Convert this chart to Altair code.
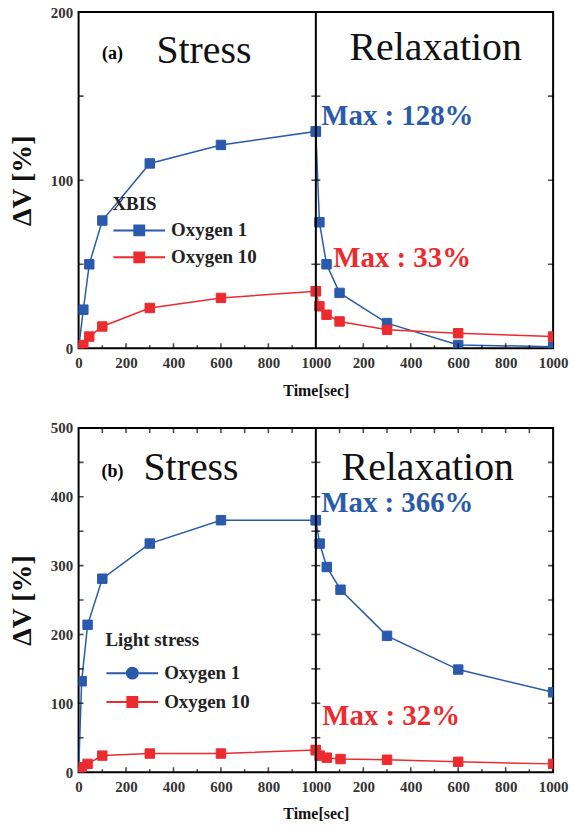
import altair as alt
import pandas as pd

BLUE = "#2a5aab"
RED = "#ec2b2f"
SERIF = "Liberation Serif"

STRESS_END = 1000
series_names = ["Oxygen 1", "Oxygen 10"]

# ---- Panel (a): NBIS ----
a_stress_time = [0, 20, 45, 100, 300, 600, 1000]
a_stress_o1 = [0, 23, 50, 76, 110, 121, 129]
a_stress_o10 = [0, 2, 7, 13, 24, 30, 34]
a_relax_time = [0, 15, 45, 100, 300, 600, 1000]
a_relax_o1 = [129, 75, 50, 33, 15, 2, 1]
a_relax_o10 = [34, 25, 20, 16, 11, 9, 7]

# ---- Panel (b): Light stress ----
b_stress_time = [0, 13, 38, 100, 300, 600, 1000]
b_stress_o1 = [0, 132, 214, 281, 332, 366, 366]
b_stress_o10 = [0, 7, 12, 24, 27, 27, 32]
b_relax_time = [0, 16, 46, 104, 300, 600, 1000]
b_relax_o1 = [366, 332, 298, 265, 198, 149, 116]
b_relax_o10 = [32, 24, 21, 19, 18, 15, 12]

a_y_labels = [0, 100, 200]
a_y_ticks = [50, 100, 150]
b_y_labels = [0, 100, 200, 300, 400, 500]
b_y_ticks = [50, 100, 150, 200, 250, 300, 350, 400, 450]
x_label_values = [0, 200, 400, 600, 800, 1000, 1200, 1400, 1600, 1800, 2000]
x_major_ticks = [200, 400, 600, 800, 1200, 1400, 1600, 1800]
x_minor_ticks = [100, 300, 500, 700, 900, 1100, 1300, 1500, 1700, 1900]
x_top_ticks = [100, 200, 300, 400, 500, 600, 700, 800, 900,
               1100, 1200, 1300, 1400, 1500, 1600, 1700, 1800, 1900]


def build(st, s1, s10, rt, r1, r10):
    rows = []
    for name, sv, rv in [("Oxygen 1", s1, r1), ("Oxygen 10", s10, r10)]:
        k = 0
        for t, v in zip(st, sv):
            rows.append({"series": name, "x": t, "v": v, "k": k})
            k += 1
        for t, v in zip(rt, rv):
            rows.append({"series": name, "x": STRESS_END + t, "v": v, "k": k})
            k += 1
    return pd.DataFrame(rows)


SQ_PATH = "M-1,0H1M-0.19,-0.19H0.19V0.19H-0.19Z"
CIRC_PATH = "M-1,0H1M0.21,0A0.21,0.21,0,1,1,-0.21,0A0.21,0.21,0,1,1,0.21,0Z"


def panel(df, ymax, y_labels, y_ticks, legend_title, leg_x, leg_y, leg_tpad, leg_rpad,
          texts, height, top_ticks, symbol):
    xsc = alt.Scale(domain=[0, 2 * STRESS_END], nice=False, zero=False)
    ysc = alt.Scale(domain=[0, ymax], nice=False, zero=False)
    col = alt.Scale(domain=series_names, range=[BLUE, RED])
    leg = alt.Legend(title=legend_title, orient="none", legendX=leg_x, legendY=leg_y,
                     symbolType=symbol, titlePadding=leg_tpad, rowPadding=leg_rpad)
    x_axis = alt.Axis(values=x_label_values, labelOverlap=False, labelFlush=False,
                      labelExpr="datum.value > 1000 ? '' + (datum.value - 1000) : '' + datum.value")
    y_axis = alt.Axis(values=y_labels, format="d", labelOverlap=False, labelFlush=False)

    def X(f):
        return alt.X(f, type="quantitative", scale=xsc, title="Time[sec]", axis=x_axis)

    def Y(f):
        return alt.Y(f, type="quantitative", scale=ysc, title="ΔV [%]", axis=y_axis)

    line = alt.Chart(df).mark_line(strokeWidth=1.5, clip=True).encode(
        x=X("x"), y=Y("v"),
        stroke=alt.Stroke("series:N", scale=col, legend=leg),
        order="k:Q",
    )
    pts = alt.Chart(df).mark_point(shape="square", filled=True, size=90, opacity=1,
                                   strokeWidth=1, clip=True).encode(
        x=X("x"), y=Y("v"),
        fill=alt.Fill("series:N", scale=col, legend=leg),
        stroke=alt.Stroke("series:N", scale=col, legend=leg),
    )

    # frame ticks (inward)
    ytk = pd.DataFrame([{"x": p, "v": v} for v in y_ticks for p in [0, 2 * STRESS_END]])
    ytk_mid = pd.DataFrame([{"x": STRESS_END, "v": v} for v in y_ticks])
    y_border = alt.Chart(ytk).mark_tick(orient="horizontal", size=10, thickness=1.6,
                                        color="black", clip=True).encode(x=X("x"), y=Y("v"))
    y_mid = alt.Chart(ytk_mid).mark_tick(orient="horizontal", size=9, thickness=1.6,
                                         color="black").encode(x=X("x"), y=Y("v"))
    xmaj = pd.DataFrame({"x": x_major_ticks, "v": [0] * len(x_major_ticks)})
    xmin = pd.DataFrame({"x": x_minor_ticks, "v": [0] * len(x_minor_ticks)})
    x_maj = alt.Chart(xmaj).mark_tick(orient="vertical", size=10, thickness=1.6,
                                      color="black", clip=True).encode(x=X("x"), y=Y("v"))
    x_min = alt.Chart(xmin).mark_tick(orient="vertical", size=6, thickness=1.6,
                                      color="black", clip=True).encode(x=X("x"), y=Y("v"))
    layers = [y_border, y_mid, x_maj, x_min]
    if top_ticks:
        xtop = pd.DataFrame({"x": x_top_ticks, "v": [ymax] * len(x_top_ticks)})
        layers.append(alt.Chart(xtop).mark_tick(orient="vertical", size=10, thickness=1.6,
                                                color="black", clip=True).encode(
            x=X("x"), y=Y("v")))

    divider = alt.Chart(pd.DataFrame({"x": [STRESS_END]})).mark_rule(
        color="black", strokeWidth=2).encode(x=X("x"))

    text_layers = []
    for (txt, px, py, size, weight, color, align) in texts:
        text_layers.append(
            alt.Chart(pd.DataFrame({"t": [txt]})).mark_text(
                font=SERIF, fontSize=size, fontWeight=weight, color=color,
                align=align, baseline="middle").encode(
                text="t:N", x=alt.value(px), y=alt.value(py)))

    return alt.layer(line, pts, *layers, divider, *text_layers).properties(
        width=477, height=height)


df_a = build(a_stress_time, a_stress_o1, a_stress_o10, a_relax_time, a_relax_o1, a_relax_o10)
df_b = build(b_stress_time, b_stress_o1, b_stress_o10, b_relax_time, b_relax_o1, b_relax_o10)

texts_a = [
    ("(a)", 34, 42, 18, "bold", "black", "center"),
    ("Stress", 126, 39, 40, "normal", "#111111", "center"),
    ("Relaxation", 359, 36, 40, "normal", "#111111", "center"),
    ("Max : 128%", 244, 104, 29, "bold", BLUE, "left"),
    ("Max : 33%", 256, 247, 29, "bold", RED, "left"),
]
texts_b = [
    ("(b)", 34, 44, 18, "bold", "black", "center"),
    ("Stress", 113, 40, 40, "normal", "#111111", "center"),
    ("Relaxation", 351, 40, 40, "normal", "#111111", "center"),
    ("Max : 366%", 244, 76, 29, "bold", BLUE, "left"),
    ("Max : 32%", 245, 290, 29, "bold", RED, "left"),
]

b_symbol = {"expr": "datum.value == 'Oxygen 1' ? '" + CIRC_PATH + "' : '" + SQ_PATH + "'"}

pa = panel(df_a, 200, a_y_labels, a_y_ticks, "XBIS", 34, 184, 6, 6, texts_a, 338,
           False, SQ_PATH)
pb = panel(df_b, 500, b_y_labels, b_y_ticks, "Light stress", 27, 204, 13, 8, texts_b, 346,
           True, b_symbol)

chart = alt.vconcat(pa, pb, spacing=80, bounds="flush").resolve_scale(
    stroke="independent", fill="independent", x="independent", y="independent"
).resolve_legend(stroke="independent", fill="independent").properties(
    padding={"left": 7, "top": 2, "right": 5, "bottom": 5},
    background="white",
).configure_view(stroke="black", strokeWidth=2).configure_axis(
    labelFont=SERIF, labelFontWeight="bold", labelFontSize=15, labelColor="#333333",
    titleFont=SERIF, titleFontWeight="bold", titleColor="#111111",
    grid=False, domain=False, ticks=False,
).configure_axisY(titleFontSize=28, titlePadding=14, labelPadding=6).configure_axisX(
    titleFontSize=16, labelPadding=7, titlePadding=12
).configure_legend(
    labelFont=SERIF, labelFontSize=19, labelFontWeight="bold", labelColor="#222222",
    titleFont=SERIF, titleFontSize=19, titleFontWeight="bold", titleColor="#222222",
    symbolSize=2704, symbolStrokeWidth=2, labelOffset=5, clipHeight=21, padding=0,
)

chart.save("out.html", embed_options={"renderer": "svg", "actions": False})
